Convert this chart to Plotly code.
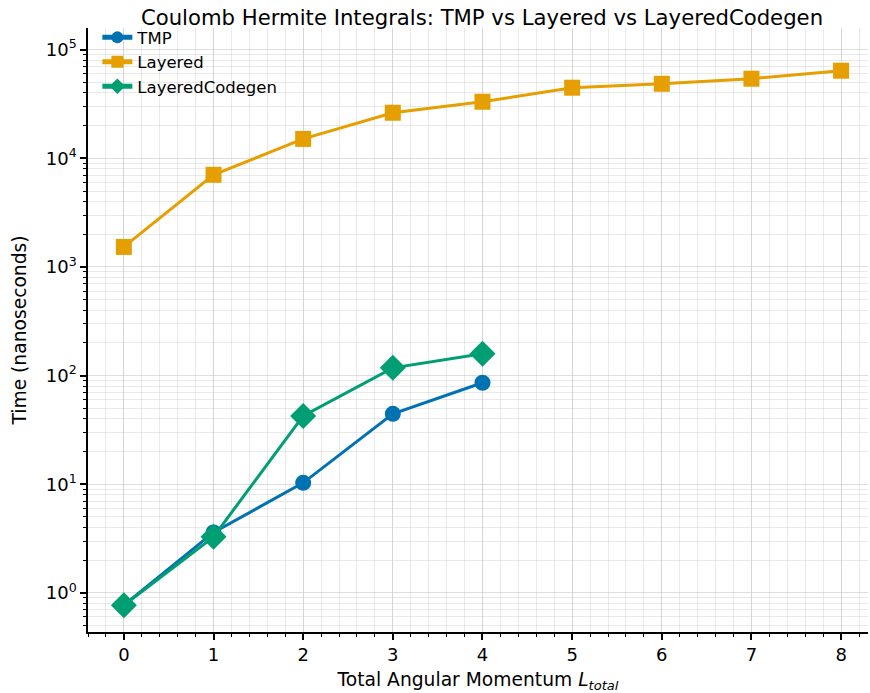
import plotly.graph_objects as go

L_vals = [0, 1, 2, 3, 4, 5, 6, 7, 8]
tmp_L = [0, 1, 2, 3, 4]
tmp_ns = [0.77, 3.6, 10.3, 44.5, 86]
layered_L = [0, 1, 2, 3, 4, 5, 6, 7, 8]
layered_ns = [1530, 7060, 15100, 26300, 33200, 44700, 48600, 54100, 64100]
codegen_L = [0, 1, 2, 3, 4]
codegen_ns = [0.77, 3.28, 42.6, 118, 159]

y_major = [1, 10, 100, 1000, 10000, 100000]
y_major_text = ["10<sup>0</sup>", "10<sup>1</sup>", "10<sup>2</sup>", "10<sup>3</sup>", "10<sup>4</sup>", "10<sup>5</sup>"]
y_minor = [m * 10 ** k for k in range(-1, 6) for m in range(2, 10)]

fig = go.Figure()
fig.add_trace(go.Scatter(x=tmp_L, y=tmp_ns, name="TMP", mode="lines+markers", legendgroup="a",
                         line=dict(color="#0072B2", width=3),
                         marker=dict(symbol="circle", size=16, color="#0072B2")))
fig.add_trace(go.Scatter(x=layered_L, y=layered_ns, name="Layered", mode="lines+markers", legendgroup="b",
                         line=dict(color="#E69F00", width=3),
                         marker=dict(symbol="square", size=16, color="#E69F00")))
fig.add_trace(go.Scatter(x=codegen_L, y=codegen_ns, name="LayeredCodegen", mode="lines+markers", legendgroup="c",
                         line=dict(color="#009E73", width=3),
                         marker=dict(symbol="diamond", size=20, color="#009E73")))

fig.update_layout(
    width=870, height=693,
    margin=dict(l=88, r=2, t=28, b=61),
    paper_bgcolor="white", plot_bgcolor="white",
    font=dict(family="DejaVu Sans", size=18, color="black"),
    title=dict(text="Coulomb Hermite Integrals: TMP vs Layered vs LayeredCodegen",
               x=482 / 870, xanchor="center", y=0.974, yanchor="middle",
               font=dict(size=21.2)),
    legend=dict(x=0.012, y=1.013, xanchor="left", yanchor="top", bgcolor="rgba(0,0,0,0)",
                font=dict(size=16.5), itemsizing="constant", tracegroupgap=0, itemwidth=30),
    showlegend=True,
)
fig.update_xaxes(
    range=[-0.4, 8.3], tickvals=L_vals, ticktext=[str(v) for v in L_vals],
    showline=True, linecolor="black", linewidth=1.5, mirror=False,
    ticks="outside", ticklen=6, tickwidth=1.5, tickcolor="black",
    showgrid=True, gridcolor="rgba(200,200,200,0.6)", gridwidth=1, zeroline=False,
    minor=dict(tick0=0, dtick=0.2, ticks="outside", ticklen=3.5, tickwidth=1, tickcolor="black",
               showgrid=True, gridcolor="rgba(200,200,200,0.4)", gridwidth=1),
    title=dict(text="Total Angular Momentum <i>L</i><sub><i>total</i></sub>", standoff=11, font=dict(size=18.7)),
)
fig.update_yaxes(
    type="log", range=[-0.36, 5.2], tickmode="array", tickvals=y_major, ticktext=y_major_text,
    showline=True, linecolor="black", linewidth=1.5, mirror=False,
    ticks="outside", ticklen=6, tickwidth=1.5, tickcolor="black",
    showgrid=True, gridcolor="rgba(200,200,200,0.6)", gridwidth=1, zeroline=False,
    minor=dict(tickmode="array", tickvals=y_minor, ticks="outside", ticklen=3.5, tickwidth=1,
               tickcolor="black", showgrid=True, gridcolor="rgba(200,200,200,0.4)", gridwidth=1),
    title=dict(text="Time (nanoseconds)", standoff=14, font=dict(size=18.7)),
)

fig.write_html("out.html")
